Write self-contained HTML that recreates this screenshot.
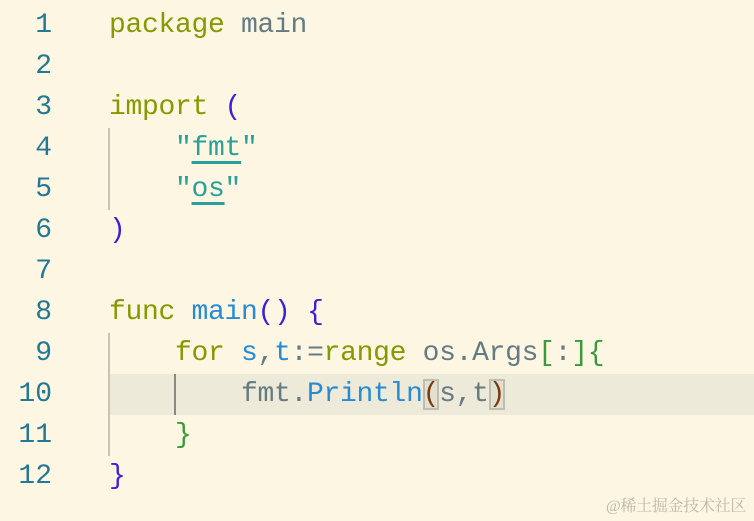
<!DOCTYPE html>
<html><head><meta charset="utf-8"><style>
html,body{margin:0;padding:0}
body{width:754px;height:521px;background:#fdf6e3;position:relative;overflow:hidden;font-family:"Liberation Mono",monospace;font-size:28px;letter-spacing:-0.3px}
.l{position:absolute;left:0;height:41px;line-height:41px;white-space:pre;width:754px}
.n{position:absolute;right:702px;color:#237893;letter-spacing:0}
.c{position:absolute;left:109px;color:#657b83}
.k{color:#859900}.p{color:#3c1fd9}.f{color:#268bd2}.s{color:#2aa198}.g{color:#3a9a3a}.b{color:#7a3a10}
.u{text-decoration:underline;text-decoration-thickness:3px;text-underline-offset:6px}
.box{outline:2px solid #bdbdb0;outline-offset:-2px;background:#e2e0d0}
.guide{position:absolute;width:2px;background:#c8c3b4}
</style></head><body>
<div style="position:absolute;left:108px;top:374px;width:646px;height:41px;background:#eeead9"></div>
<div class="guide" style="left:108px;top:128px;height:82px"></div>
<div class="guide" style="left:108px;top:333px;height:123px"></div>
<div class="guide" style="left:174px;top:374px;height:41px;background:#8a8a80"></div>
<div class="l" style="top:5px"><span class="n">1</span><span class="c"><span class="k">package</span> main</span></div>
<div class="l" style="top:46px"><span class="n">2</span></div>
<div class="l" style="top:87px"><span class="n">3</span><span class="c"><span class="k">import</span> <span class="p">(</span></span></div>
<div class="l" style="top:128px"><span class="n">4</span><span class="c">    <span class="s">"<span class="u">fmt</span>"</span></span></div>
<div class="l" style="top:169px"><span class="n">5</span><span class="c">    <span class="s">"<span class="u">os</span>"</span></span></div>
<div class="l" style="top:210px"><span class="n">6</span><span class="c"><span class="p">)</span></span></div>
<div class="l" style="top:251px"><span class="n">7</span></div>
<div class="l" style="top:292px"><span class="n">8</span><span class="c"><span class="k">func</span> <span class="f">main</span><span class="p">()</span> <span class="p">{</span></span></div>
<div class="l" style="top:333px"><span class="n">9</span><span class="c">    <span class="k">for</span> <span class="f">s</span>,<span class="f">t</span>:=<span class="k">range</span> os.Args<span class="g">[</span>:<span class="g">]{</span></span></div>
<div class="l" style="top:374px"><span class="n">10</span><span class="c">        fmt.<span class="f">Println</span><span class="b box">(</span>s,t<span class="b box">)</span></span></div>
<div class="l" style="top:415px"><span class="n">11</span><span class="c">    <span class="g">}</span></span></div>
<div class="l" style="top:456px"><span class="n">12</span><span class="c"><span class="p">}</span></span></div>
<div style="position:absolute;left:606px;top:493px;font-family:'Liberation Serif','Noto Serif CJK SC',serif;font-size:16px;color:#bdb8ac">@稀土掘金技术社区</div>
</body></html>
